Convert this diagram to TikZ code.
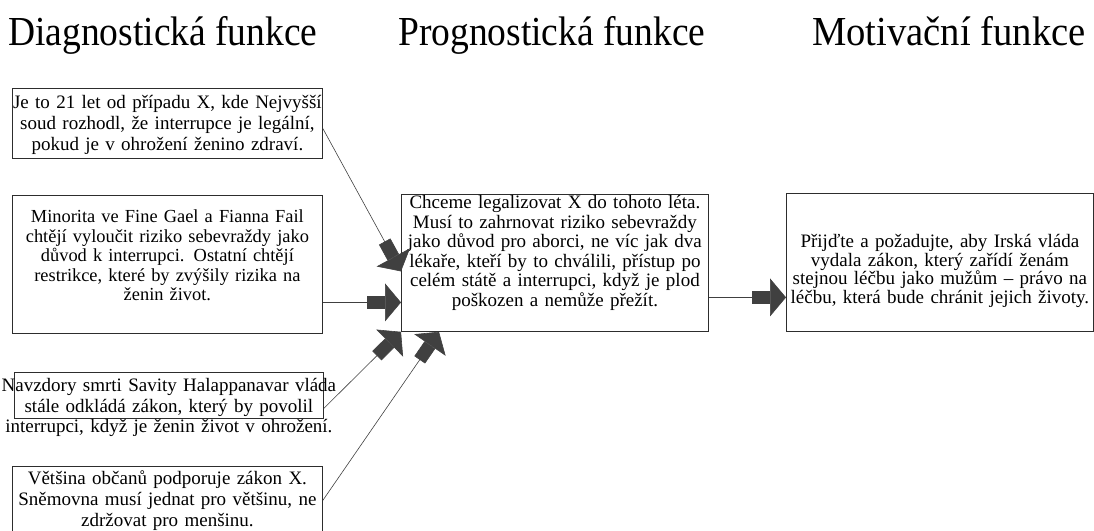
\documentclass[tikz,border=0pt]{standalone}
\usepackage{fontspec}
\setmainfont{Liberation Serif}
\usepackage{graphicx}
\usepackage{xcolor}
\usepackage{tikz}
\usetikzlibrary{arrows.meta}
\definecolor{blockgray}{RGB}{64, 64, 64}
\definecolor{framegray}{RGB}{45, 45, 45}

\begin{document}
\begin{tikzpicture}[
  x=1pt, y=-1pt,
  every node/.style={font=\fontsize{19}{21}\selectfont, text=black},
  heading/.style={font=\fontsize{37.5}{40}\selectfont, anchor=base west, inner sep=0pt},
  box/.style={draw=framegray, line width=0.8pt, align=center, anchor=north west, inner xsep=0pt, inner ysep=0pt},
  link/.style={draw=black!75, line width=0.6pt},
  bigarrow/.style={link, -{Rectangle[length=18pt, width=13pt, sep=0pt, color=blockgray] Triangle[length=16pt, width=38pt, color=blockgray]}}
]
  \useasboundingbox (0,0) rectangle (1094,530);
  \clip (0,0) rectangle (1094,530);

  % Nadpisy
  \node[heading] (hdiag) at (8,45) {\scalebox{1}[1.1]{Diagnostická funkce}};
  \node[heading] (hprog) at (398,45) {\scalebox{1}[1.1]{Prognostická funkce}};
  \node[heading] (hmotiv) at (812,45) {\scalebox{1.03}[1.1]{Motivační funkce}};

  % Diagnostika
  \node[box, text width=310pt, text height=20.5pt, text depth=49.5pt] (diag1) at (12,88) {Je to 21 let od případu X, kde Nejvyšší\\ soud rozhodl, že interrupce je legální,\\ pokud je v ohrožení ženino zdraví.};
  \node[box, text width=310pt, text height=27.5pt, text depth=110.5pt, font=\fontsize{18.4}{19.5}\selectfont] (diag2) at (12,195) {Minorita ve Fine Gael a Fianna Fail\\ chtějí vyloučit riziko sebevraždy jako\\ důvod k interrupci. Ostatní chtějí\\ restrikce, které by zvýšily rizika na\\ ženin život.};
  \node[box, text width=345pt, inner xsep=-18pt, text height=19.5pt, text depth=26.5pt, font=\fontsize{19}{20.5}\selectfont] (diag3) at (14,372) {Navzdory smrti Savity Halappanavar vláda\\ stále odkládá zákon, který by povolil\\ interrupci, když je ženin život v ohrožení.};
  \node[box, text width=310pt, text height=18.5pt, text depth=55.5pt] (diag4) at (12,466) {Většina občanů podporuje zákon X.\\ Sněmovna musí jednat pro většinu, ne\\ zdržovat pro menšinu.};

  % Prognoza a motivace
  \node[box, text width=307pt, text height=14.5pt, text depth=122.5pt, font=\fontsize{19}{19.5}\selectfont] (prog) at (401,194) {Chceme legalizovat X do tohoto léta.\\ Musí to zahrnovat riziko sebevraždy\\ jako důvod pro aborci, ne víc jak dva\\ lékaře, kteří by to chválili, přístup po\\ celém státě a interrupci, když je plod\\ poškozen a nemůže přežít.};
  \node[box, text width=307pt, text height=54pt, text depth=84pt, font=\fontsize{19}{18.7}\selectfont] (motiv) at (786,193) {Přijďte a požadujte, aby Irská vláda\\ vydala zákon, který zařídí ženám\\ stejnou léčbu jako mužům -- právo na\\ léčbu, která bude chránit jejich životy.};

  \draw[bigarrow] ([yshift=-5pt]diag1.east) -- ([yshift=-8.5pt]prog.west);
  \draw[bigarrow] ([yshift=-38pt]diag2.east) -- ([yshift=-39.5pt]prog.west);
  \draw[bigarrow] ([yshift=-13pt]diag3.east) -- (prog.south west);
  \draw[bigarrow] ([yshift=3pt]diag4.east) -- ([xshift=38pt]prog.south west);
  \draw[bigarrow] ([yshift=-34.5pt]prog.east) -- ([yshift=-35pt]motiv.west);

\end{tikzpicture}
\end{document}
